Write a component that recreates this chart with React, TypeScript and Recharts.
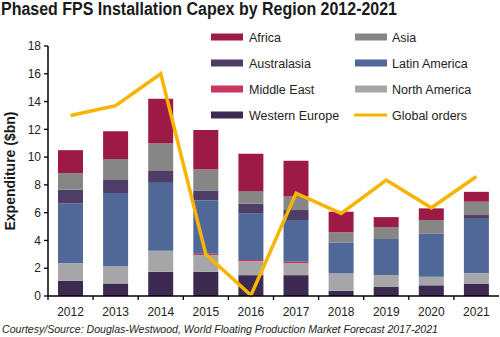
import React from 'react';
import { ComposedChart, Bar, Line, XAxis, YAxis } from 'recharts';

const years = ['2012', '2013', '2014', '2015', '2016', '2017', '2018', '2019', '2020', '2021'];
const westernEurope = [1.1, 0.9, 1.75, 1.75, 1.5, 1.5, 0.38, 0.65, 0.77, 0.89];
const northAmerica = [1.25, 1.25, 1.5, 1.2, 1.0, 0.87, 1.25, 0.86, 0.62, 0.74];
const middleEast = [0, 0, 0, 0.1, 0.1, 0.1, 0, 0, 0, 0];
const latinAmerica = [4.3, 5.27, 4.9, 3.85, 3.35, 3.0, 2.23, 2.59, 3.09, 3.93];
const australasia = [1.0, 0.94, 0.85, 0.7, 0.7, 0.72, 0, 0, 0, 0.27];
const asia = [1.2, 1.5, 2.0, 1.5, 0.9, 1.0, 0.72, 0.86, 0.99, 0.96];
const africa = [1.65, 2.0, 3.2, 2.85, 2.7, 2.55, 1.49, 0.72, 0.84, 0.71];
const globalOrders = [13.0, 13.7, 16.0, 3.0, 0.05, 7.4, 5.95, 8.35, 6.35, 8.6];
const yTicks = [0, 2, 4, 6, 8, 10, 12, 14, 16, 18];

const TITLE = 'Phased FPS Installation Capex by Region 2012-2021';
const SOURCE = 'Courtesy/Source: Douglas-Westwood, World Floating Production Market Forecast 2017-2021';
const FONT = '"Liberation Sans", Arial, Helvetica, sans-serif';

const COLORS = {
  africa: '#9d1a46',
  asia: '#868686',
  australasia: '#4d3d67',
  latinAmerica: '#4f6898',
  middleEast: '#c9365f',
  northAmerica: '#a6a6a8',
  westernEurope: '#3c2a50',
  globalOrders: '#f7b500',
};

const data = years.map((year, i) => ({
  year,
  westernEurope: westernEurope[i],
  northAmerica: northAmerica[i],
  middleEast: middleEast[i],
  latinAmerica: latinAmerica[i],
  australasia: australasia[i],
  asia: asia[i],
  africa: africa[i],
  globalOrders: globalOrders[i],
}));

const stackOrder: { key: keyof typeof COLORS; name: string }[] = [
  { key: 'westernEurope', name: 'Western Europe' },
  { key: 'northAmerica', name: 'North America' },
  { key: 'middleEast', name: 'Middle East' },
  { key: 'latinAmerica', name: 'Latin America' },
  { key: 'australasia', name: 'Australasia' },
  { key: 'asia', name: 'Asia' },
  { key: 'africa', name: 'Africa' },
];

const legendLeft: { key: keyof typeof COLORS; name: string }[] = [
  { key: 'africa', name: 'Africa' },
  { key: 'australasia', name: 'Australasia' },
  { key: 'middleEast', name: 'Middle East' },
  { key: 'westernEurope', name: 'Western Europe' },
];
const legendRight: { key: keyof typeof COLORS; name: string; line?: boolean }[] = [
  { key: 'asia', name: 'Asia' },
  { key: 'latinAmerica', name: 'Latin America' },
  { key: 'northAmerica', name: 'North America' },
  { key: 'globalOrders', name: 'Global orders', line: true },
];

const W = 500;
const H = 337;
const Y_AXIS_W = 48;
const RIGHT = 1;
const BAND_HALF = (W - Y_AXIS_W - RIGHT) / years.length / 2;

const XTick = (props: any) => {
  const { x, y, payload } = props;
  return (
    <g>
      <line x1={x - BAND_HALF} x2={x - BAND_HALF} y1={y} y2={y + 4} stroke="#000" strokeWidth={1.3} />
      <text x={x} y={y + 20} textAnchor="middle" fontSize={12} fontFamily={FONT} fill="#222">
        {payload.value}
      </text>
    </g>
  );
};

export default function App() {
  return (
    <div style={{ position: 'relative', width: W, height: H, background: '#fff', overflow: 'hidden' }}>
      <style>{'body{margin:0}'}</style>
      <ComposedChart
        width={W}
        height={H}
        data={data}
        margin={{ top: 46, right: RIGHT, bottom: 0, left: 0 }}
        barSize={25}
      >
        <XAxis
          dataKey="year"
          height={41}
          tickLine={false}
          tickSize={0}
          tickMargin={0}
          tick={<XTick />}
          axisLine={{ stroke: '#000', strokeWidth: 1.5 }}
          interval={0}
        />
        <YAxis
          width={Y_AXIS_W}
          domain={[0, 18]}
          ticks={yTicks}
          tickSize={4}
          tickMargin={3}
          tickLine={{ stroke: '#000', strokeWidth: 1.3 }}
          axisLine={{ stroke: '#000', strokeWidth: 1.5 }}
          tick={{ fontSize: 12, fontFamily: FONT, fill: '#222' }}
          label={{
            value: 'Expenditure ($bn)',
            angle: -90,
            position: 'insideLeft',
            offset: 10,
            style: { fontSize: 14, fontWeight: 'bold', fontFamily: FONT, fill: '#1a1a1a', textAnchor: 'middle' },
          }}
        />
        {stackOrder.map((s) => (
          <Bar key={s.key} dataKey={s.key} name={s.name} stackId="a" fill={COLORS[s.key]} isAnimationActive={false} />
        ))}
        <Line
          type="linear"
          dataKey="globalOrders"
          name="Global orders"
          stroke={COLORS.globalOrders}
          strokeWidth={3.5}
          dot={false}
          activeDot={false}
          isAnimationActive={false}
        />
      </ComposedChart>
      <svg
        width={W}
        height={H}
        style={{ position: 'absolute', left: 0, top: 0, pointerEvents: 'none' }}
      >
        <text
          x={1}
          y={15}
          fontSize={17.5}
          fontWeight="bold"
          fontFamily={FONT}
          fill="#1a1a1a"
          textLength={396}
          lengthAdjust="spacingAndGlyphs"
        >
          {TITLE}
        </text>
        {legendLeft.map((item, i) => (
          <g key={item.key}>
            <rect x={211} y={37 + i * 26 - 3.5} width={32} height={7} fill={COLORS[item.key]} />
            <text x={249} y={37 + i * 26 + 4.5} fontSize={12.5} fontFamily={FONT} fill="#222">
              {item.name}
            </text>
          </g>
        ))}
        {legendRight.map((item, i) =>
          item.line ? (
            <g key={item.key}>
              <line x1={354} x2={387} y1={37 + i * 26} y2={37 + i * 26} stroke={COLORS[item.key]} strokeWidth={3} />
              <text x={392} y={37 + i * 26 + 4.5} fontSize={12.5} fontFamily={FONT} fill="#222">
                {item.name}
              </text>
            </g>
          ) : (
            <g key={item.key}>
              <rect x={355} y={37 + i * 26 - 3.5} width={32} height={7} fill={COLORS[item.key]} />
              <text x={392} y={37 + i * 26 + 4.5} fontSize={12.5} fontFamily={FONT} fill="#222">
                {item.name}
              </text>
            </g>
          )
        )}
        <text
          x={2}
          y={333}
          fontSize={10}
          fontStyle="italic"
          fontFamily={FONT}
          fill="#222"
          textLength={436}
          lengthAdjust="spacingAndGlyphs"
        >
          {SOURCE}
        </text>
      </svg>
    </div>
  );
}
